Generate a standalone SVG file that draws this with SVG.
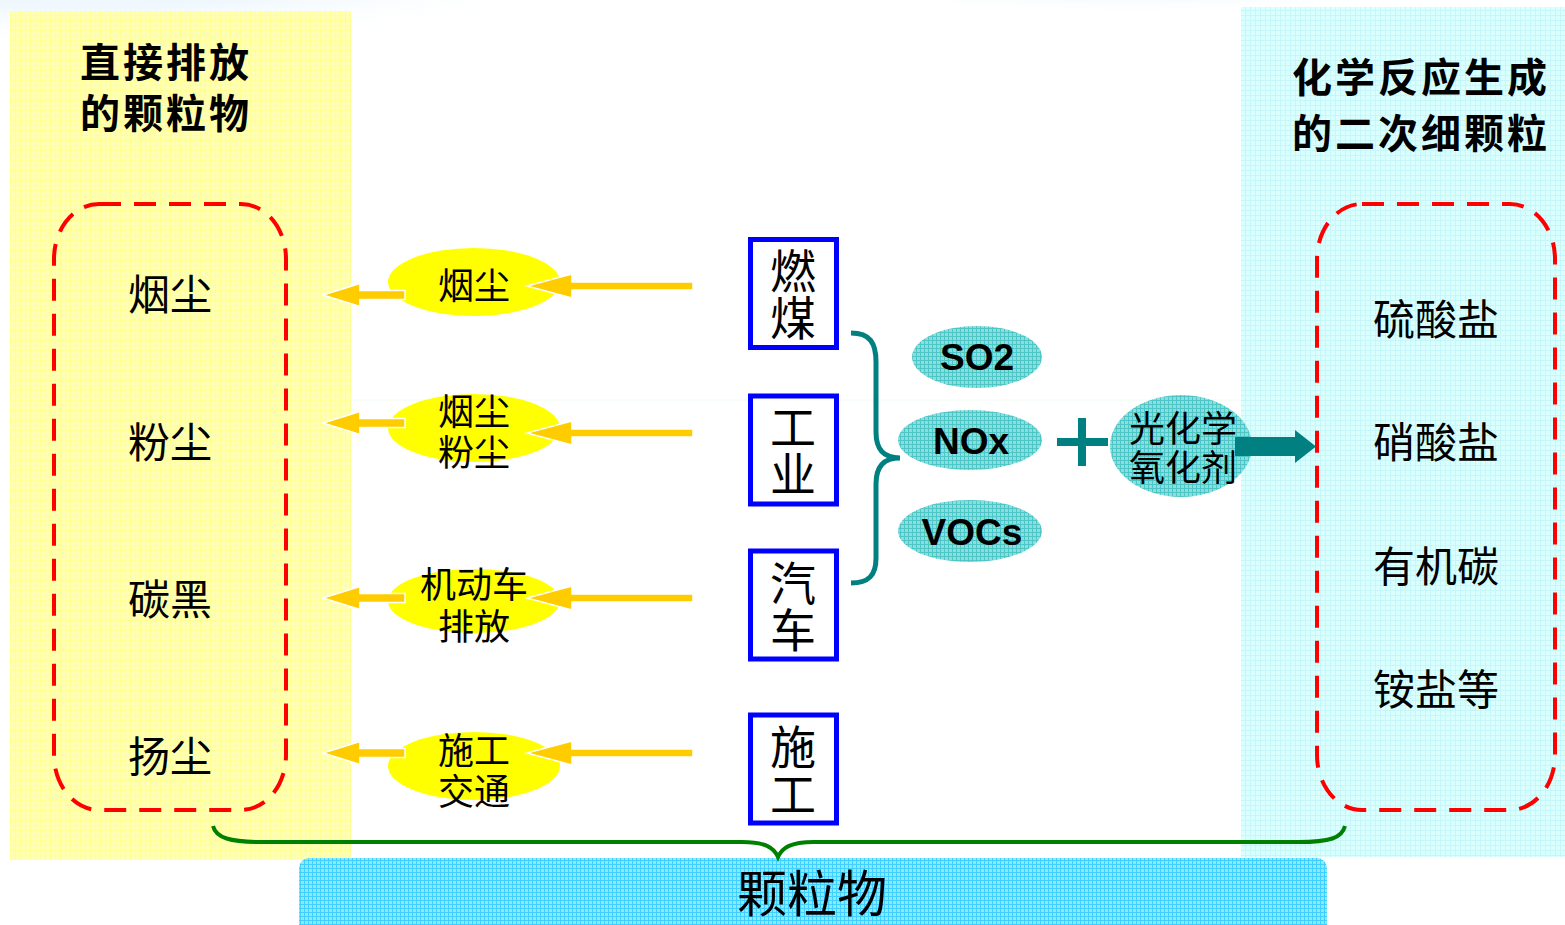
<svg xmlns="http://www.w3.org/2000/svg" width="1565" height="925" viewBox="0 0 1565 925">
<defs>
<radialGradient id="sky" cx="0.3" cy="0" r="0.7">
<stop offset="0" stop-color="#E2F1FB"/>
<stop offset="0.6" stop-color="#F0F8FD"/>
<stop offset="1" stop-color="#FFFFFF" stop-opacity="0"/>
</radialGradient>
<pattern id="gY" width="5" height="5" patternUnits="userSpaceOnUse">
<rect width="5" height="5" fill="#FFFFB4"/>
<path d="M0,0.5H5M0.5,0V5" stroke="#FFFF96" stroke-width="1"/>
</pattern>
<pattern id="gC" width="5" height="5" patternUnits="userSpaceOnUse">
<rect width="5" height="5" fill="#D9FFFF"/>
<path d="M0,0.5H5M0.5,0V5" stroke="#C6F6FA" stroke-width="1"/>
</pattern>
<pattern id="gT" width="4" height="4" patternUnits="userSpaceOnUse">
<rect width="4" height="4" fill="#8FDCDC"/>
<path d="M0,0.5H4M0.5,0V4" stroke="#4CC6C6" stroke-width="1"/>
</pattern>
<pattern id="gB" width="4" height="4" patternUnits="userSpaceOnUse">
<rect width="4" height="4" fill="#8EE6FF"/>
<path d="M0,0.5H4M0.5,0V4" stroke="#3FD0FF" stroke-width="1"/>
</pattern>
</defs>
<style>
.t{font-family:"Noto Sans CJK SC","Liberation Sans",sans-serif;fill:#000}
.title{font-size:40px;font-weight:700;letter-spacing:3px}
.item{font-size:42px;text-anchor:middle}
.ell{font-size:36px;text-anchor:middle}
.box{font-size:46px;text-anchor:middle}
.lat{font-family:"Liberation Sans",Arial,sans-serif;font-weight:700;font-size:37px;text-anchor:middle;fill:#000}
.dash{fill:none;stroke:#FF0000;stroke-width:4;stroke-dasharray:22,13}
.yel{fill:#FFFF00}
.arr{fill:#FFCC00;stroke:#FFFFFF;stroke-width:1.5}
.blue{fill:#FFFFFF;stroke:#0000FF;stroke-width:5}
.teal{fill:url(#gT)}
</style>
<rect width="1565" height="925" fill="#FFFFFF"/>
<ellipse cx="250" cy="20" rx="400" ry="80" fill="url(#sky)"/>
<ellipse cx="1250" cy="0" rx="300" ry="40" fill="url(#sky)"/>
<line x1="351" y1="400" x2="1241" y2="400" stroke="#EEFBEE" stroke-width="1"/>

<g id="panel-left">
<rect x="10" y="11" width="341" height="849" fill="url(#gY)"/>
<text class="t title" x="80" y="77">直接排放</text>
<text class="t title" x="80" y="128">的颗粒物</text>
</g>
<g id="panel-right">
<rect x="1241" y="7" width="324" height="850" fill="url(#gC)"/>
<text class="t title" x="1292" y="92">化学反应生成</text>
<text class="t title" x="1292" y="148">的二次细颗粒</text>
</g>

<g id="group-direct">
<rect class="dash" x="54" y="204" width="232" height="606" rx="45" ry="55"/>
<text class="t item" x="170" y="310">烟尘</text>
<text class="t item" x="170" y="458">粉尘</text>
<text class="t item" x="170" y="615">碳黑</text>
<text class="t item" x="170" y="772">扬尘</text>
</g>
<g id="group-secondary">
<rect class="dash" x="1317" y="204" width="238" height="606" rx="45" ry="55"/>
<text class="t item" x="1436" y="335">硫酸盐</text>
<text class="t item" x="1436" y="458">硝酸盐</text>
<text class="t item" x="1436" y="582">有机碳</text>
<text class="t item" x="1436" y="705">铵盐等</text>
</g>

<g id="ell-1"><ellipse class="yel" cx="474" cy="282" rx="86" ry="34"/><text class="t ell" x="474" y="299">烟尘</text></g>
<g id="ell-2"><ellipse class="yel" cx="474" cy="428" rx="86" ry="34"/><text class="t ell" x="474" y="425">烟尘</text><text class="t ell" x="474" y="466">粉尘</text></g>
<g id="ell-3"><ellipse class="yel" cx="474" cy="601" rx="86" ry="32"/><text class="t ell" x="474" y="598">机动车</text><text class="t ell" x="474" y="640">排放</text></g>
<g id="ell-4"><ellipse class="yel" cx="474" cy="766" rx="86" ry="34"/><text class="t ell" x="474" y="764">施工</text><text class="t ell" x="474" y="805">交通</text></g>

<g id="src-coal"><rect class="blue" x="750.5" y="239.5" width="86" height="108"/><text class="t box" x="793" y="288">燃</text><text class="t box" x="793" y="335">煤</text></g>
<g id="src-industry"><rect class="blue" x="750.5" y="396" width="86" height="108"/><text class="t box" x="793" y="444">工</text><text class="t box" x="793" y="491">业</text></g>
<g id="src-car"><rect class="blue" x="750.5" y="551" width="86" height="108"/><text class="t box" x="793" y="600">汽</text><text class="t box" x="793" y="647">车</text></g>
<g id="src-construction"><rect class="blue" x="750.5" y="715" width="86" height="108"/><text class="t box" x="793" y="764">施</text><text class="t box" x="793" y="811">工</text></g>

<g id="gas-so2"><ellipse class="teal" cx="977" cy="357" rx="65" ry="31"/><text class="lat" x="977" y="370">SO2</text></g>
<g id="gas-nox"><ellipse class="teal" cx="970" cy="440" rx="72" ry="30"/><text class="lat" x="971" y="454">NOx</text></g>
<g id="gas-vocs"><ellipse class="teal" cx="970" cy="531" rx="72" ry="31"/><text class="lat" x="972" y="545">VOCs</text></g>
<g id="oxidant"><ellipse class="teal" cx="1181" cy="446" rx="71" ry="51"/><text class="t ell" x="1183" y="442">光化学</text><text class="t ell" x="1183" y="481">氧化剂</text></g>

<g id="particulate">
<rect x="299" y="858" width="1028" height="90" rx="10" fill="url(#gB)"/>
<text class="t" x="812" y="912" font-size="50" text-anchor="middle">颗粒物</text>
</g>

<g id="connectors">
<polygon class="arr" points="527,286 572,274 572,282 693,282 693,290 572,290 572,298"/>
<polygon class="arr" points="323,295 360,283.5 360,290.5 405,290.5 405,299.5 360,299.5 360,306.5"/>
<polygon class="arr" points="527,433 572,421 572,429 693,429 693,437 572,437 572,445"/>
<polygon class="arr" points="323,423 360,411.5 360,418.5 405,418.5 405,427.5 360,427.5 360,434.5"/>
<polygon class="arr" points="527,598 572,586 572,594 693,594 693,602 572,602 572,610"/>
<polygon class="arr" points="323,598 360,586.5 360,593.5 405,593.5 405,602.5 360,602.5 360,609.5"/>
<polygon class="arr" points="527,753 572,741 572,749 693,749 693,757 572,757 572,765"/>
<polygon class="arr" points="323,753 360,741.5 360,748.5 405,748.5 405,757.5 360,757.5 360,764.5"/>
<path d="M851,333 C870,333 876,343 876,362 L876,432 C876,450 884,458 900,458 C884,458 876,466 876,484 L876,558 C876,575 869,583 851,583" fill="none" stroke="#008080" stroke-width="5"/>
<path d="M1057,442 H1108 M1082,418 V466" stroke="#008080" stroke-width="8" fill="none"/>
<polygon points="1235,437 1295,437 1295,430 1316,446.5 1295,463 1295,456 1235,456" fill="#008080"/>
<path d="M213,826 C216,838 230,842 262,842 L742,842 C766,842 774,848 778,857 C782,848 790,842 814,842 L1298,842 C1330,842 1342,838 1345,826" fill="none" stroke="#008000" stroke-width="4"/>
</g>
</svg>
